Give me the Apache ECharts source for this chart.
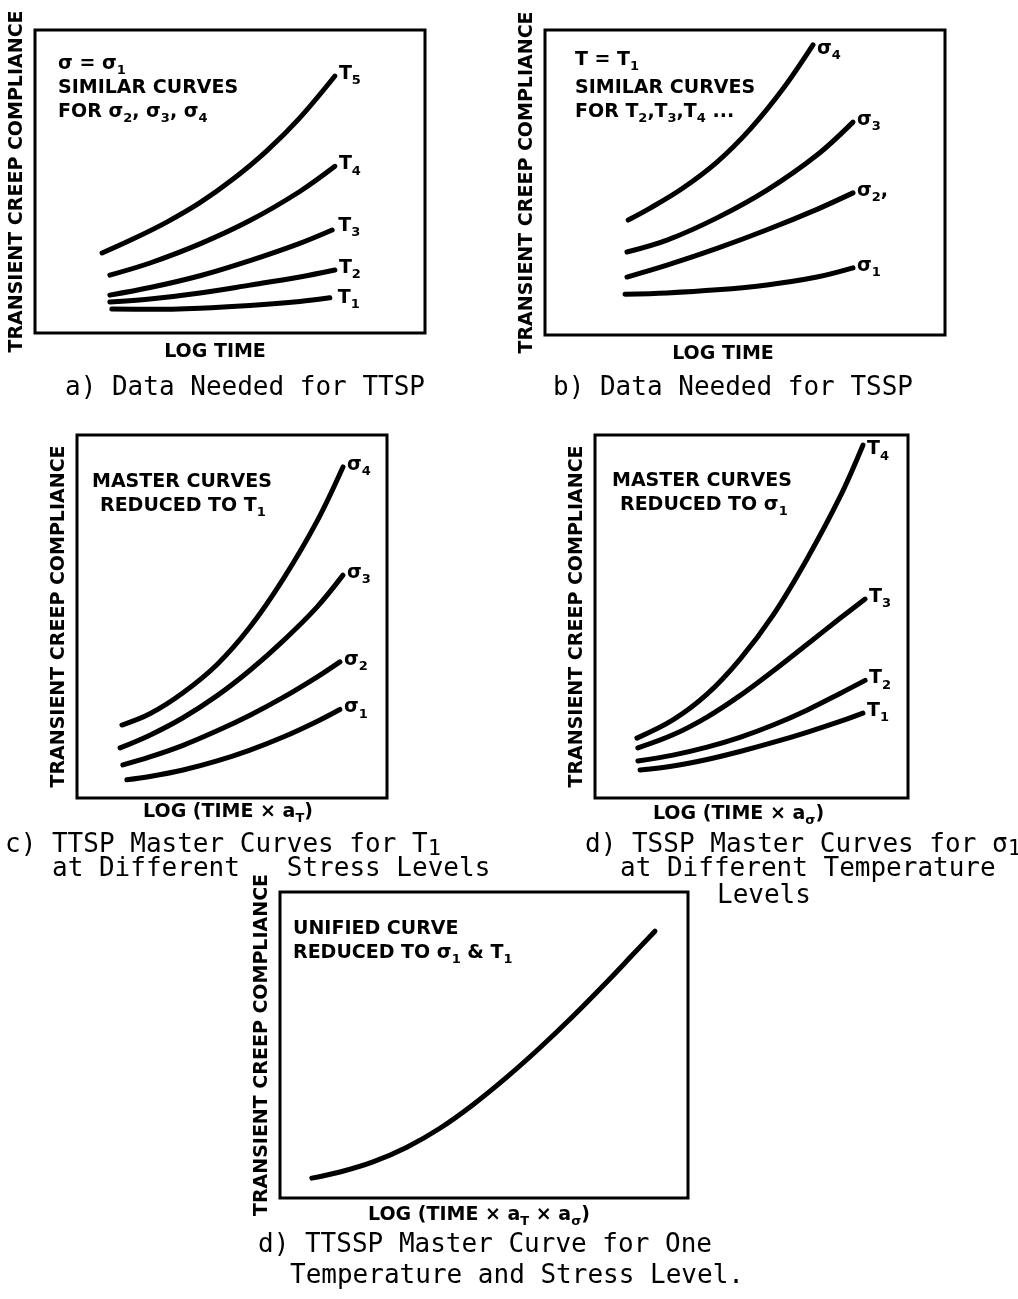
<!DOCTYPE html>
<html>
<head>
<meta charset="utf-8">
<script src="https://cdn.jsdelivr.net/npm/echarts@6/dist/echarts.min.js"></script>
<style>
  html, body { margin: 0; padding: 0; background: #fff; }
  #chart { width: 1018px; height: 1299px; }
</style>
</head>
<body>
<div id="chart"></div>
<script>
// Schematic creep-compliance curves, relative units (0-100 across each frame).

// a) TTSP data: one stress, several temperatures
const aT5x = [17.2, 25.1, 33.8, 42.3, 50.8, 59.5, 67.9, 76.9];
const aT5y = [26.4, 31.0, 36.6, 43.0, 50.8, 60.2, 71.0, 84.8];
const aT4x = [19.2, 29.5, 42.3, 55.1, 67.9, 76.9];
const aT4y = [19.1, 23.1, 29.4, 37.1, 46.7, 55.0];
const aT3x = [19.2, 29.5, 42.3, 55.1, 67.9, 76.2];
const aT3y = [12.5, 15.0, 18.9, 23.9, 29.6, 34.0];
const aT2x = [19.2, 29.5, 42.3, 55.1, 67.9, 76.9];
const aT2y = [10.2, 11.2, 13.2, 15.8, 18.5, 20.8];
const aT1x = [19.7, 29.5, 42.3, 55.1, 67.9, 75.6];
const aT1y = [7.9, 7.8, 8.2, 9.1, 10.4, 11.6];

// b) TSSP data: one temperature, several stresses
const bS4x = [20.8, 26.3, 34.5, 43.0, 51.3, 59.5, 67.0];
const bS4y = [37.7, 41.6, 48.2, 56.7, 67.5, 80.7, 95.1];
const bS3x = [20.5, 30.5, 43.0, 55.5, 68.0, 77.0];
const bS3y = [27.2, 31.1, 38.4, 47.5, 59.0, 69.8];
const bS2x = [20.5, 30.5, 43.0, 55.5, 68.0, 77.0];
const bS2y = [19.0, 22.9, 28.4, 34.5, 41.2, 46.6];
const bS1x = [20.0, 30.5, 43.0, 55.5, 68.0, 77.0];
const bS1y = [13.4, 13.8, 14.8, 16.4, 19.0, 22.0];

// c) TTSP master curves reduced to T1
const cS4x = [14.5, 23.5, 34.2, 45.2, 55.8, 66.5, 77.4, 85.8];
const cS4y = [20.1, 23.2, 29.0, 36.8, 47.1, 60.3, 76.2, 91.2];
const cS3x = [13.9, 23.5, 34.2, 45.2, 55.8, 66.5, 77.4, 85.8];
const cS3y = [13.8, 17.3, 22.1, 28.2, 35.2, 43.3, 52.6, 61.4];
const cS2x = [14.8, 23.5, 34.2, 45.2, 55.8, 66.5, 77.4, 84.8];
const cS2y = [9.1, 11.3, 14.5, 18.5, 22.8, 27.7, 33.3, 37.5];
const cS1x = [16.1, 23.5, 34.2, 45.2, 55.8, 66.5, 77.4, 84.8];
const cS1y = [5.0, 5.9, 7.7, 10.2, 13.2, 16.8, 21.1, 24.4];

// d) TSSP master curves reduced to sigma1
const dT4x = [13.4, 24.9, 35.8, 46.3, 56.9, 67.7, 78.3, 85.6];
const dT4y = [16.5, 21.5, 28.6, 38.2, 50.4, 65.8, 83.0, 97.2];
const dT3x = [13.7, 24.9, 35.8, 46.3, 56.9, 67.7, 78.3, 86.3];
const dT3y = [13.8, 17.4, 22.3, 28.2, 35.0, 42.3, 49.5, 54.8];
const dT2x = [13.7, 24.9, 35.8, 46.3, 56.9, 67.7, 78.3, 86.3];
const dT2y = [10.2, 11.8, 14.0, 16.7, 20.1, 24.2, 28.8, 32.4];
const dT1x = [14.4, 24.9, 35.8, 46.3, 56.9, 67.7, 78.3, 85.6];
const dT1y = [7.7, 8.8, 10.6, 12.8, 15.3, 18.1, 21.1, 23.4];

// e) unified TTSSP master curve
const eUx = [7.8, 14.7, 22.8, 31.1, 39.2, 47.3, 55.6, 63.7, 71.8, 80.1, 86.3, 91.9];
const eUy = [6.5, 8.5, 11.8, 16.6, 22.8, 30.5, 39.5, 49.1, 59.4, 70.6, 79.3, 87.2];

const LETTER = 'DejaVu Sans';
const MONO = 'DejaVu Sans Mono';

const richLetter = {
  m: { fontFamily: LETTER, fontWeight: 'bold', fontSize: 19, color: '#000', lineHeight: 20 },
  s: { fontFamily: LETTER, fontWeight: 'bold', fontSize: 13, color: '#000', lineHeight: 14, padding: [14, 0, 0, 0] }
};
const richMono = {
  m: { fontFamily: MONO, fontSize: 26, color: '#000', lineHeight: 26 },
  s: { fontFamily: MONO, fontSize: 22, color: '#000', lineHeight: 22, padding: [8, 0, 0, 0] }
};

function sub(main, s, tail) {
  return '{m|' + main + '}{s|' + s + '}' + (tail ? '{m|' + tail + '}' : '');
}
function zip(xs, ys) { return xs.map((x, i) => [x, ys[i]]); }

const frames = [
  { left: 35,  top: 30,  width: 390, height: 303, xName: '{m|LOG TIME}', xGap: 9, xShift: 30 },
  { left: 545, top: 30,  width: 400, height: 305, xName: '{m|LOG TIME}', xGap: 9, xShift: 44 },
  { left: 77,  top: 435, width: 310, height: 363, xName: '{m|LOG (TIME × a}{s|T}{m|)}', xGap: 4, xShift: 8 },
  { left: 595, top: 435, width: 313, height: 363, xName: '{m|LOG (TIME × a}{s|σ}{m|)}', xGap: 6, xShift: 26 },
  { left: 280, top: 892, width: 408, height: 306, xName: '{m|LOG (TIME × a}{s|T}{m| × a}{s|σ}{m|)}', xGap: 7, xShift: 10 }
];

const grid = frames.map(f => ({
  left: f.left, top: f.top, width: f.width, height: f.height,
  show: true, borderColor: '#000', borderWidth: 3, backgroundColor: 'transparent'
}));

const xAxis = frames.map((f, i) => ({
  type: 'value', gridIndex: i, min: 0, max: 100,
  axisLine: { show: false }, axisTick: { show: false }, axisLabel: { show: false }, splitLine: { show: false },
  name: f.xName, nameLocation: 'middle', nameGap: f.xGap,
  nameTextStyle: { rich: richLetter, padding: [0, f.xShift, 0, 0] }
}));

const yAxis = frames.map((f, i) => ({
  type: 'value', gridIndex: i, min: 0, max: 100,
  axisLine: { show: false }, axisTick: { show: false }, axisLabel: { show: false }, splitLine: { show: false },
  name: 'TRANSIENT CREEP COMPLIANCE', nameLocation: 'middle', nameGap: 8, nameRotate: 90,
  nameTextStyle: { fontFamily: LETTER, fontWeight: 'bold', fontSize: 19, color: '#000' }
}));

function curve(panel, xs, ys, label, offset) {
  return {
    type: 'line', xAxisIndex: panel, yAxisIndex: panel,
    data: zip(xs, ys), smooth: 0.35, symbol: 'none', silent: true,
    lineStyle: { color: '#000', width: 5, cap: 'round', join: 'round' },
    endLabel: label ? {
      show: true, formatter: label, distance: 4, offset: offset || [0, -2],
      rich: richLetter
    } : { show: false }
  };
}

const series = [
  curve(0, aT5x, aT5y, sub('T', '5')),
  curve(0, aT4x, aT4y, sub('T', '4')),
  curve(0, aT3x, aT3y, sub('T', '3'), [2, -4]),
  curve(0, aT2x, aT2y, sub('T', '2')),
  curve(0, aT1x, aT1y, sub('T', '1'), [4, 0]),
  curve(1, bS4x, bS4y, sub('σ', '4'), [0, 4]),
  curve(1, bS3x, bS3y, sub('σ', '3')),
  curve(1, bS2x, bS2y, sub('σ', '2', ',')),
  curve(1, bS1x, bS1y, sub('σ', '1')),
  curve(2, cS4x, cS4y, sub('σ', '4')),
  curve(2, cS3x, cS3y, sub('σ', '3')),
  curve(2, cS2x, cS2y, sub('σ', '2')),
  curve(2, cS1x, cS1y, sub('σ', '1')),
  curve(3, dT4x, dT4y, sub('T', '4'), [0, 4]),
  curve(3, dT3x, dT3y, sub('T', '3')),
  curve(3, dT2x, dT2y, sub('T', '2')),
  curve(3, dT1x, dT1y, sub('T', '1')),
  curve(4, eUx, eUy, null)
];

function note(x, y, text) {
  return {
    type: 'text', x: x, y: y, silent: true,
    style: {
      text: text, rich: richLetter, fill: '#000',
      font: 'bold 19px "' + LETTER + '"',
      align: 'left', verticalAlign: 'middle', textAlign: 'left', textVerticalAlign: 'middle'
    }
  };
}
function caption(x, y, text) {
  return {
    type: 'text', x: x, y: y, silent: true,
    style: {
      text: text, rich: richMono, fill: '#000',
      font: '26px "' + MONO + '"',
      align: 'left', verticalAlign: 'middle', textAlign: 'left', textVerticalAlign: 'middle'
    }
  };
}

const graphic = [
  // panel annotations
  note(58, 64, '{m|σ = σ}{s|1}'),
  note(58, 88, '{m|SIMILAR CURVES}'),
  note(58, 112, '{m|FOR σ}{s|2}{m|, σ}{s|3}{m|, σ}{s|4}'),
  note(575, 60, '{m|T = T}{s|1}'),
  note(575, 88, '{m|SIMILAR CURVES}'),
  note(575, 112, '{m|FOR T}{s|2}{m|,T}{s|3}{m|,T}{s|4}{m| ...}'),
  note(92, 482, '{m|MASTER CURVES}'),
  note(100, 506, '{m|REDUCED TO T}{s|1}'),
  note(612, 481, '{m|MASTER CURVES}'),
  note(620, 505, '{m|REDUCED TO σ}{s|1}'),
  note(293, 929, '{m|UNIFIED CURVE}'),
  note(293, 953, '{m|REDUCED TO σ}{s|1}{m| & T}{s|1}'),
  // captions
  caption(65, 388, '{m|a) Data Needed for TTSP}'),
  caption(553, 388, '{m|b) Data Needed for TSSP}'),
  caption(5, 845, '{m|c) TTSP Master Curves for T}{s|1}'),
  caption(52, 869, '{m|at Different   Stress Levels}'),
  caption(585, 845, '{m|d) TSSP Master Curves for σ}{s|1}'),
  caption(620, 869, '{m|at Different Temperature}'),
  caption(717, 896, '{m|Levels}'),
  caption(258, 1245, '{m|d) TTSSP Master Curve for One}'),
  caption(290, 1276, '{m|Temperature and Stress Level.}')
];

const chart = echarts.init(document.getElementById('chart'), null, { renderer: 'canvas' });
chart.setOption({
  animation: false,
  backgroundColor: '#fff',
  grid: grid,
  xAxis: xAxis,
  yAxis: yAxis,
  series: series,
  graphic: graphic
});
</script>
</body>
</html>
